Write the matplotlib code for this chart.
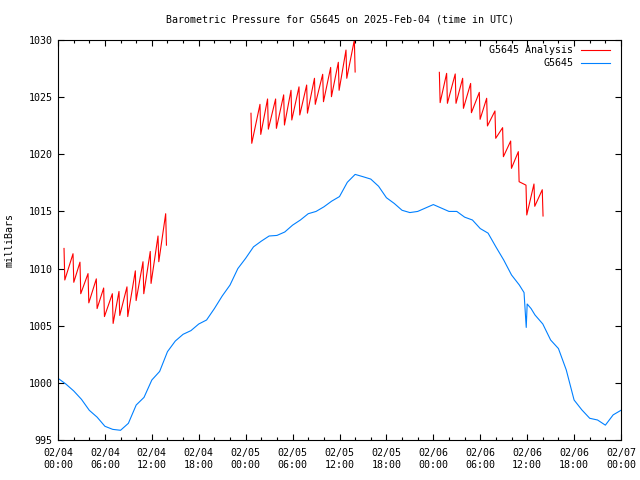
import matplotlib
matplotlib.use('Agg')
import matplotlib.pyplot as plt
import numpy as np

# 分析值（每小时一个锯齿：峰值后下降）
seg1_hours = [0.77, 1.92, 2.81, 3.84, 4.90, 5.84, 6.95, 7.80, 8.82, 9.89, 10.87, 11.80, 12.79, 13.77]
seg1_peak = [1011.76, 1011.3, 1010.56, 1009.56, 1009.1, 1008.3, 1007.8, 1008.0, 1008.4, 1009.8, 1010.6, 1011.5, 1012.85, 1014.8]
seg1_low = [1009.0, 1008.8, 1007.8, 1007.0, 1006.5, 1005.8, 1005.2, 1005.9, 1005.8, 1007.2, 1007.8, 1008.7, 1010.6, 1012.05]

seg2_hours = [24.68, 25.83, 26.80, 27.83, 28.86, 29.80, 30.82, 31.80, 32.80, 33.85, 34.87, 35.85, 36.83, 37.90]
seg2_peak = [1023.59, 1024.37, 1024.84, 1024.84, 1025.2, 1025.6, 1025.9, 1026.06, 1026.65, 1027.0, 1027.6, 1028.05, 1029.12, 1030.0]
seg2_low = [1020.96, 1021.74, 1022.2, 1022.27, 1022.56, 1023.0, 1023.44, 1023.6, 1024.37, 1024.6, 1025.04, 1025.6, 1026.65, 1027.2]

seg3_hours = [48.77, 49.70, 50.80, 51.75, 52.77, 53.88, 54.82, 55.88, 56.86, 57.89, 58.87, 59.85, 60.87, 61.93]
seg3_peak = [1027.17, 1027.08, 1027.03, 1026.65, 1026.2, 1025.42, 1024.9, 1023.79, 1022.33, 1021.16, 1020.23, 1017.3, 1017.4, 1016.9]
seg3_low = [1024.52, 1024.46, 1024.46, 1024.02, 1023.64, 1023.06, 1022.48, 1021.4, 1019.79, 1018.77, 1017.6, 1014.69, 1015.45, 1014.6]

# 观测值
blue_hours = list(range(0, 60)) + [59.6, 59.88, 60, 60.5] + list(range(61, 73))
blue_vals = [1000.4, 999.9, 999.3, 998.56, 997.6, 997.0, 996.2, 995.93, 995.85, 996.46,
             998.06, 998.73, 1000.25, 1001.0, 1002.73, 1003.66, 1004.25, 1004.57, 1005.15, 1005.5,
             1006.5, 1007.6, 1008.56, 1010.0, 1010.9, 1011.9, 1012.4, 1012.85, 1012.9, 1013.2,
             1013.8, 1014.25, 1014.8, 1015.0, 1015.4, 1015.9, 1016.3, 1017.55, 1018.24, 1018.04,
             1017.83, 1017.2, 1016.2, 1015.7, 1015.1, 1014.9, 1015.0, 1015.3, 1015.6, 1015.3,
             1015.0, 1015.0, 1014.5, 1014.25, 1013.5, 1013.1, 1011.9, 1010.75, 1009.44, 1008.56,
             1007.9, 1004.85, 1006.9, 1006.5,
             1005.94, 1005.15, 1003.75, 1003.0, 1001.13, 998.5, 997.63, 996.9, 996.75, 996.3,
             997.2, 997.6]

xtick_hours = [0, 6, 12, 18, 24, 30, 36, 42, 48, 54, 60, 66, 72]
xtick_labels = ['02/04\n00:00', '02/04\n06:00', '02/04\n12:00', '02/04\n18:00',
                '02/05\n00:00', '02/05\n06:00', '02/05\n12:00', '02/05\n18:00',
                '02/06\n00:00', '02/06\n06:00', '02/06\n12:00', '02/06\n18:00',
                '02/07\n00:00']
ytick_vals = [995, 1000, 1005, 1010, 1015, 1020, 1025, 1030]


def build_teeth(hours, peaks, lows, drop=0.1):
    xs, ys = [], []
    for h, p, l in zip(hours, peaks, lows):
        xs += [h, h + drop]
        ys += [p, l]
    return xs, ys


red_x, red_y = [], []
for hs, ps, ls in [(seg1_hours, seg1_peak, seg1_low),
                   (seg2_hours, seg2_peak, seg2_low),
                   (seg3_hours, seg3_peak, seg3_low)]:
    xs, ys = build_teeth(hs, ps, ls)
    red_x += xs + [np.nan]
    red_y += ys + [np.nan]

plt.rcParams['font.family'] = ['DejaVu Sans Mono']
fs = 7.2

fig = plt.figure(figsize=(6.4, 4.8), dpi=100)
ax = fig.add_axes([58 / 640, 40 / 480, (621 - 58) / 640, 400 / 480])

ax.plot(red_x, red_y, color='#ff0000', lw=0.8, label='G5645 Analysis')
ax.plot(blue_hours, blue_vals, color='#0080ff', lw=0.8, label='G5645')

ax.set_xlim(0, 72)
ax.set_ylim(995, 1030)
ax.set_xticks(xtick_hours)
ax.set_xticklabels(xtick_labels, fontsize=fs)
ax.set_xticks(np.arange(0, 73, 2), minor=True)
ax.set_yticks(ytick_vals)
ax.set_yticklabels([str(v) for v in ytick_vals], fontsize=fs)
ax.tick_params(which='both', direction='in', top=True, right=True, width=0.8)
ax.tick_params(which='major', length=4.5)
ax.tick_params(which='minor', length=2.5)
ax.tick_params(axis='x', pad=6)
ax.tick_params(axis='y', pad=4)
for t in ax.get_xticklabels():
    t.set_linespacing(1.15)
for sp in ax.spines.values():
    sp.set_linewidth(0.8)

leg = ax.legend(loc='upper right', bbox_to_anchor=(1 - 4 / 563, 1 + 2 / 400),
                frameon=False, markerfirst=False, fontsize=fs,
                handlelength=2.9, borderaxespad=0.3, labelspacing=0.35, handletextpad=0.8)
for t in leg.get_texts():
    t.set_ha('right')

fig.text(339.5 / 640, 1 - 20 / 480, 'Barometric Pressure for G5645 on 2025-Feb-04 (time in UTC)',
         ha='center', va='center', fontsize=fs)
fig.text(10 / 640, 0.5, 'milliBars', rotation=90, ha='center', va='center', fontsize=fs)

fig.savefig('out.png', dpi=100)
